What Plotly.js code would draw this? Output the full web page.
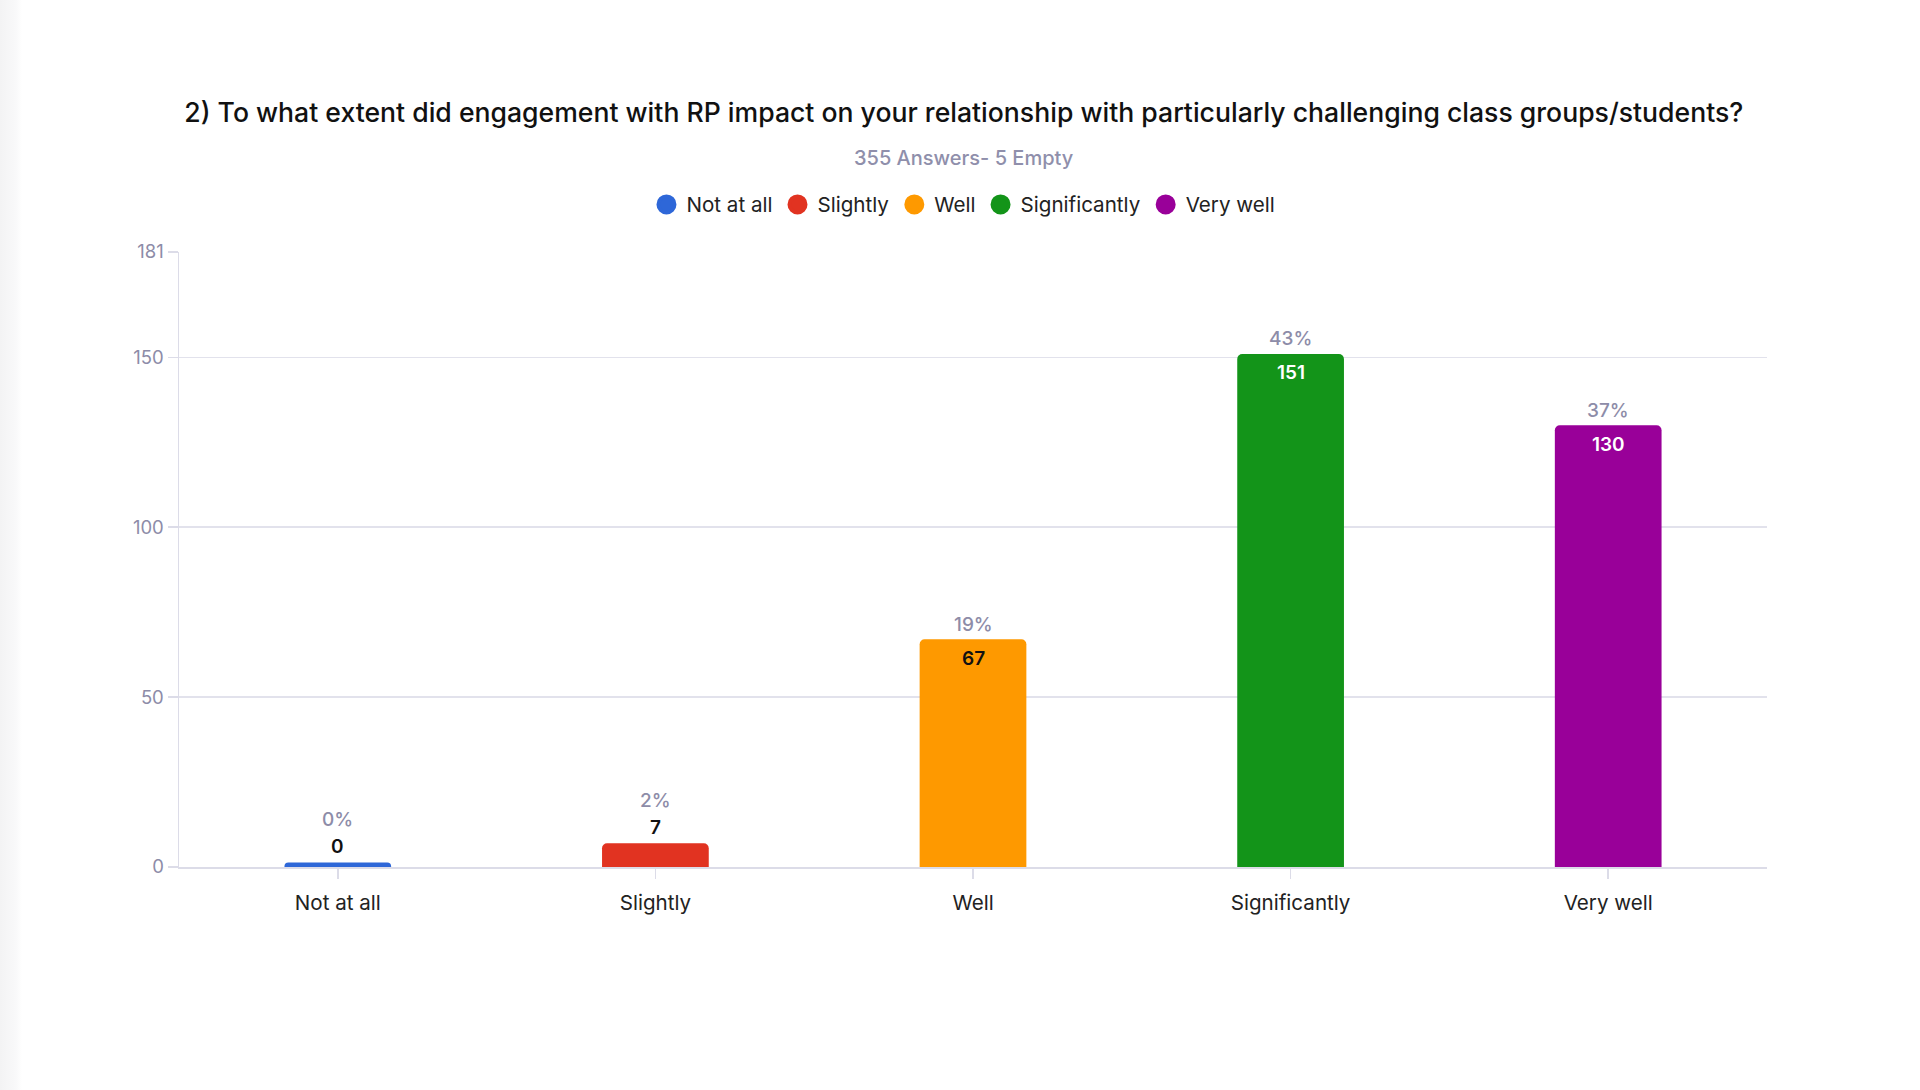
<!DOCTYPE html>
<html>
<head>
<meta charset="utf-8">
<script src="https://cdn.plot.ly/plotly-3.0.1.min.js"></script>
<style>
  html, body { margin: 0; padding: 0; }
  body { background: linear-gradient(to right, #f3f3f4 0, #f9f9fa 16px, #ffffff 22px); }
  #chart { width: 1920px; height: 1090px; }
</style>
</head>
<body>
<div id="chart"></div>
<script>
const categories = ['Not at all', 'Slightly', 'Well', 'Significantly', 'Very well'];
const counts = [0, 7, 67, 151, 130];
const percentLabels = ['0%', '2%', '19%', '43%', '37%'];
const yTickVals = [0, 50, 100, 150, 181];

const barColors = ['#2e67d8', '#e13321', '#fe9900', '#139419', '#990099'];
const valueColors = ['#111111', '#111111', '#111111', '#ffffff', '#ffffff'];
const fontFamily = 'Inter, "Noto Sans", sans-serif';
const grayText = '#8d8ca8';
// zero answers still get a thin sliver, like the source tool draws them
const minBarHeight = 1.3;

const shown = counts.map(v => Math.max(v, minBarHeight));

const bars = {
  type: 'bar',
  x: categories,
  y: shown,
  marker: { color: barColors },
  showlegend: false,
  hoverinfo: 'skip',
};

// legend only: round dots like the original
const legendDots = categories.map((name, i) => ({
  type: 'scatter',
  mode: 'markers',
  name,
  x: [null],
  y: [null],
  marker: { color: barColors[i], size: 16, symbol: 'circle', line: { color: barColors[i], width: 4 } },
  hoverinfo: 'skip',
}));

const annotations = [];
categories.forEach((cat, i) => {
  const inside = counts[i] > 30;
  annotations.push({
    x: cat, y: shown[i], xref: 'x', yref: 'y',
    text: percentLabels[i], showarrow: false,
    yanchor: 'middle', yshift: inside ? 15 : 43,
    font: { family: fontFamily, size: 19, color: grayText, weight: 500 },
  });
  annotations.push({
    x: cat, y: shown[i], xref: 'x', yref: 'y',
    text: String(counts[i]), showarrow: false,
    yanchor: 'middle', yshift: inside ? -19 : 16,
    font: { family: fontFamily, size: 19, color: valueColors[i], weight: 600 },
  });
});

annotations.push({
  xref: 'paper', yref: 'paper', x: 0.4943, y: 1.1528,
  xanchor: 'center', yanchor: 'middle', showarrow: false,
  text: '355 Answers- 5 Empty',
  font: { family: fontFamily, size: 20, color: '#8f8fab', weight: 500 },
});

const layout = {
  width: 1920,
  height: 1090,
  margin: { l: 179, r: 153, t: 252, b: 223 },
  paper_bgcolor: 'rgba(0,0,0,0)',
  plot_bgcolor: '#ffffff',
  font: { family: fontFamily, color: '#222222' },
  title: {
    text: '2) To what extent did engagement with RP impact on your relationship with particularly challenging class groups/students?',
    x: 0.502, xanchor: 'center',
    y: 1 - 113 / 1090, yref: 'container', yanchor: 'middle',
    font: { family: fontFamily, size: 26.6, color: '#111111', weight: 500 },
  },
  bargap: 0.664,
  barcornerradius: 5,
  showlegend: true,
  legend: {
    orientation: 'h',
    x: 0.494, xanchor: 'center',
    y: 1.0772, yanchor: 'middle',
    font: { family: fontFamily, size: 20.6, color: '#222222' },
    itemclick: false,
  },
  xaxis: {
    type: 'category',
    showgrid: false,
    showline: true, linecolor: '#dcdce8', linewidth: 2,
    ticks: 'outside', ticklen: 10, tickcolor: '#dcdce8', tickwidth: 1.5,
    ticklabelstandoff: 6,
    tickfont: { family: fontFamily, size: 20.6, color: '#222222' },
    zeroline: false,
    fixedrange: true,
  },
  yaxis: {
    range: [0, 181],
    tickvals: yTickVals,
    ticktext: yTickVals.map(String),
    showgrid: true, gridcolor: '#e2e2ec', gridwidth: 1.5,
    showline: true, linecolor: '#dcdce8', linewidth: 1.5,
    ticks: 'outside', ticklen: 10, tickcolor: '#dcdce8', tickwidth: 1.5,
    tickfont: { family: fontFamily, size: 18.5, color: grayText },
    zeroline: false,
    fixedrange: true,
  },
  annotations,
};

Plotly.newPlot('chart', [bars, ...legendDots], layout, { displayModeBar: false, staticPlot: true });
</script>
</body>
</html>
